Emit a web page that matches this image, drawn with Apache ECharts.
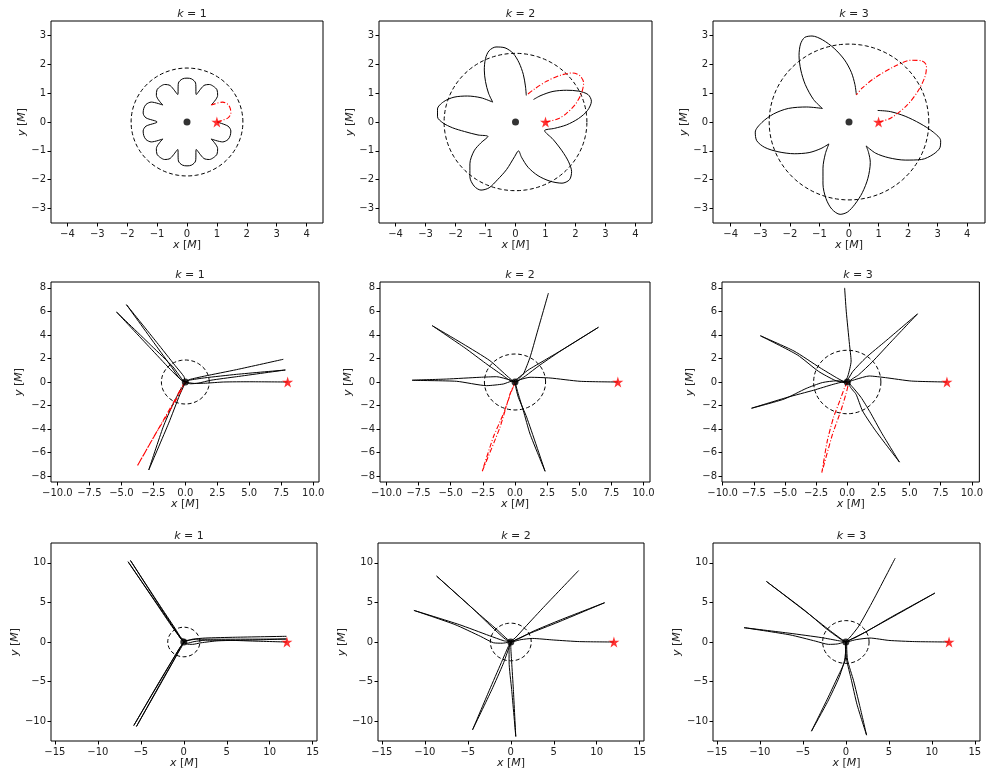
<!DOCTYPE html>
<html><head><meta charset="utf-8">
<script src="https://cdn.jsdelivr.net/npm/echarts@6/dist/echarts.min.js"></script>
<style>html,body{margin:0;padding:0;background:#fff}#c{width:986px;height:774px}</style>
</head><body><div id="c"></div>
<script>
// ---------------- DATA ----------------
const kValues = [1, 2, 3, 1, 2, 3, 1, 2, 3];
const starX = [1, 8, 12];            // star marker x per row (y = 0)
const circleRadius = [1.87, 2.38, 2.7]; // dashed circle radius per k
const xTicks = [
  [-4, -3, -2, -1, 0, 1, 2, 3, 4],
  [-10, -7.5, -5, -2.5, 0, 2.5, 5, 7.5, 10],
  [-15, -10, -5, 0, 5, 10, 15]
];
const yTicks = [
  [-3, -2, -1, 0, 1, 2, 3],
  [-8, -6, -4, -2, 0, 2, 4, 6, 8],
  [-10, -5, 0, 5, 10]
];
const xLimits = [[-4.55, 4.55], [-4.55, 4.55], [-4.6, 4.6],
                 [-10.5, 10.45], [-10.5, 10.5], [-10.05, 10.6],
                 [-15.45, 15.5], [-15.45, 15.5], [-15.45, 15.6]];
const yLimits = [[-3.5, 3.5], [-3.5, 3.5], [-3.5, 3.5],
                 [-8.5, 8.5], [-8.5, 8.5], [-8.5, 8.5],
                 [-12.5, 12.5], [-12.5, 12.5], [-12.5, 12.5]];

// row 1 (bound orbits)
const r1k1Black = [[0.809,0.588],[1.025,0.923],[1.004,1.115],[0.893,1.23],[0.75,1.299],[0.561,1.261],[0.309,0.951],[0.287,1.35],[0.157,1.492],[0,1.52],[-0.157,1.492],[-0.287,1.35],[-0.309,0.951],[-0.561,1.261],[-0.75,1.299],[-0.893,1.23],[-1.004,1.115],[-1.025,0.923],[-0.809,0.588],[-1.195,0.69],[-1.37,0.61],[-1.446,0.47],[-1.467,0.312],[-1.372,0.144],[-1.0,0],[-1.372,-0.144],[-1.467,-0.312],[-1.446,-0.47],[-1.37,-0.61],[-1.195,-0.69],[-0.809,-0.588],[-1.025,-0.923],[-1.004,-1.115],[-0.893,-1.23],[-0.75,-1.299],[-0.561,-1.261],[-0.309,-0.951],[-0.287,-1.35],[-0.157,-1.492],[0,-1.52],[0.157,-1.492],[0.287,-1.35],[0.309,-0.951],[0.561,-1.261],[0.75,-1.299],[0.893,-1.23],[1.004,-1.115],[1.025,-0.923],[0.809,-0.588],[1.195,-0.69],[1.37,-0.61],[1.446,-0.47],[1.467,-0.312],[1.372,-0.144],[1.0,0]];
const r1k1Red = [[1,0],[1.372,0.144],[1.467,0.312],[1.446,0.47],[1.37,0.61],[1.195,0.69],[0.809,0.588]];

const r1k2Black = [[0.36,0.92],[0.33,1.25],[0.26,1.65],[0.12,2.05],[-0.08,2.38],[-0.35,2.57],[-0.65,2.6],[-0.88,2.47],[-1.0,2.2],[-1.04,1.8],[-1.0,1.4],[-0.9,1.0],[-0.76,0.69],
  [-1.15,0.84],[-1.6,0.9],[-2.05,0.86],[-2.4,0.7],[-2.6,0.45],[-2.6,0.18],[-2.42,-0.03],[-2.1,-0.2],[-1.7,-0.33],[-1.25,-0.45],[-0.92,-0.5],
  [-1.15,-0.72],[-1.38,-1.0],[-1.52,-1.45],[-1.52,-1.9],[-1.38,-2.22],[-1.15,-2.36],[-0.88,-2.28],[-0.6,-2.0],[-0.3,-1.65],[-0.03,-1.2],[0.1,-1.0],
  [0.2,-1.22],[0.42,-1.57],[0.75,-1.86],[1.15,-2.05],[1.55,-2.12],[1.8,-2.0],[1.87,-1.72],[1.77,-1.38],[1.55,-1.0],[1.25,-0.6],[0.97,-0.3],
  [1.3,-0.22],[1.7,-0.1],[2.1,0.12],[2.4,0.4],[2.53,0.72],[2.42,0.95],[2.1,1.07],[1.7,1.1],[1.25,1.06],[0.85,0.92],[0.6,0.78]];
const r1k2Red = [[1,0],[1.42,0.11],[1.7,0.3],[2.0,0.62],[2.2,1.0],[2.27,1.35],[2.15,1.6],[1.9,1.7],[1.5,1.62],[1.05,1.42],[0.64,1.15],[0.36,0.92]];

const r1k3Black = [[0.25,0.94],[0.2,1.3],[0.08,1.72],[-0.15,2.15],[-0.5,2.55],[-0.9,2.85],[-1.25,2.98],[-1.5,2.93],[-1.64,2.7],[-1.69,2.3],[-1.63,1.8],[-1.48,1.3],[-1.2,0.78],[-0.9,0.47],
  [-1.43,0.52],[-2.05,0.47],[-2.55,0.28],[-2.95,-0.02],[-3.17,-0.35],[-3.12,-0.65],[-2.85,-0.88],[-2.4,-1.03],[-1.85,-1.1],[-1.35,-1.06],[-0.95,-0.92],[-0.68,-0.76],
  [-0.8,-1.1],[-0.88,-1.6],[-0.88,-2.15],[-0.78,-2.65],[-0.58,-3.02],[-0.3,-3.2],[-0.05,-3.12],[0.2,-2.85],[0.45,-2.45],[0.64,-1.95],[0.72,-1.4],[0.66,-1.05],[0.58,-0.83],
  [0.9,-1.08],[1.35,-1.24],[1.9,-1.32],[2.45,-1.3],[2.85,-1.12],[3.08,-0.88],[3.1,-0.65],[2.85,-0.35],[2.4,-0.05],[1.9,0.2],[1.4,0.36],[0.97,0.4]];
const r1k3Red = [[1,0],[1.42,0.14],[1.98,0.6],[2.35,1.1],[2.58,1.6],[2.62,1.95],[2.45,2.12],[2.1,2.14],[1.53,1.92],[0.86,1.52],[0.45,1.18],[0.25,0.94]];

// row 2
const r2k1Black = [[8,0],[5,0.02],[3,0],[1.6,-0.1],[0.7,-0.12],[0.2,-0.05],[0,0],
  [-0.1,0.45],[-0.8,1.4],[-2.22,3.35],[-4.6,6.57],[-2.38,3.23],[-1.04,1.22],[-0.45,0.3],[0,0],
  [0.3,0.15],[1.5,0.35],[4,0.65],[7.82,1.02],[4,0.45],[2,0.15],[1.0,-0.1],[0.4,-0.15],[0.05,-0.05],
  [-0.1,-0.3],[-0.44,-1.1],[-1.3,-3.5],[-2.86,-7.48],[-1.74,-3.85],[-0.96,-1.87],[-0.35,-0.6],[0,-0.05],
  [-0.3,0.3],[-0.97,1.29],[-2.62,3.05],[-5.38,5.95],[-2.76,2.91],[-1.19,1.09],[-0.4,0.25],[0,0],
  [0.3,0.2],[1.5,0.5],[4,1.05],[7.66,1.93]];
const r2k1Red = [[0,0],[-0.23,-0.31],[-0.7,-1.3],[-1.74,-3.29],[-3.74,-7.11],[-2.26,-4.28],[-1.22,-2.44],[-0.45,-1.0],[-0.12,-0.3],[0,0]];

const r2k2Black = [[8,0],[5.06,0.06],[2.73,0.34],[1.17,0.4],[0.4,0.2],[0,0],
  [-0.5,0.4],[-1.95,1.81],[-4.03,3.23],[-6.44,4.79],[-3.9,2.9],[-2.3,1.6],[-1.0,0.6],[-0.2,0.05],
  [0.2,0.3],[1.0,1.0],[2.3,1.85],[4.0,2.95],[6.49,4.65],[3.77,2.8],[1.95,1.45],[0.8,0.5],[0.2,0.05],
  [0.05,-0.3],[0.26,-1.3],[0.91,-3.0],[2.34,-7.59],[1.17,-4.42],[0.65,-2.44],[0.25,-1.0],[0,-0.1],
  [-0.26,0.06],[-0.91,-0.17],[-2.21,-0.31],[-4.55,0.06],[-8,0.15],[-5.32,0.25],[-2.73,0.4],[-1.43,0.45],[-0.39,0.17],[0,0],
  [0.3,0.3],[0.65,0.68],[1.17,2.1],[1.69,4.08],[2.6,7.56]];
const r2k2Red = [[0,0],[-0.1,-0.3],[-0.39,-1.02],[-1.17,-3.85],[-2.55,-7.59],[-1.69,-4.7],[-0.91,-2.72],[-0.26,-0.74],[0,-0.1]];

const r2k3Black = [[8,0],[5.16,0.08],[3.07,0.37],[1.76,0.51],[0.71,0.23],[0.1,0.02],[0,0],
  [-0.3,0.05],[-0.87,0.37],[-2.18,1.21],[-4.27,2.63],[-6.97,3.93],[-4.0,2.3],[-2.3,0.9],[-1.0,0.15],[-0.2,-0.05],
  [0.1,0.3],[0.45,0.9],[1.49,2.06],[3.07,3.47],[5.64,5.79],[3.5,3.4],[2.0,1.7],[0.9,0.6],[0.2,0.05],
  [0.2,-0.3],[0.71,-1.05],[1.23,-2.46],[2.28,-4.15],[4.19,-6.81],[2.8,-4.4],[1.8,-2.5],[1.1,-1.3],[0.4,-0.4],[0,0],
  [-0.3,0],[-1.13,-0.2],[-2.7,-0.7],[-4.8,-1.3],[-7.68,-2.23],[-5.06,-1.45],[-3.3,-0.55],[-2.0,-0.05],[-0.87,0.1],[-0.2,0.05],
  [0.05,0.51],[0.31,1.78],[0.18,3.19],[-0.08,6.02],[-0.21,8.0]];
const r2k3Red = [[0,0],[-0.21,-0.48],[-0.6,-1.6],[-1.1,-3.0],[-1.6,-5.0],[-2.04,-7.71],[-1.2,-4.5],[-0.5,-2.4],[-0.1,-1.0],[0.05,-0.3],[0,0]];

// row 3
const r3k1Black = [[12,0],[8,0.12],[5,0.22],[2.5,0.22],[1.2,0.05],[0.4,-0.15],[0,-0.1],
  [-0.35,-0.55],[-1.1,-1.9],[-2.8,-5.0],[-5.82,-10.55],[-3.0,-5.3],[-1.4,-2.4],[-0.5,-0.8],[0,-0.1],[0.2,0.2],
  [-0.3,0.5],[-1.0,1.7],[-2.9,4.8],[-6.21,10.3],[-3.2,5.2],[-1.5,2.35],[-0.6,0.9],[-0.05,0.15],
  [1.5,0.35],[4,0.35],[8,0.36],[11.95,0.38],[8,0.25],[4,0.15],[2,-0.1],[1.0,-0.3],[0.3,-0.25],[0,0],
  [-0.25,-0.6],[-0.9,-1.8],[-2.6,-5.0],[-5.51,-10.67],[-2.7,-5.3],[-1.2,-2.4],[-0.4,-0.7],[0.05,0],
  [-0.4,0.5],[-1.2,1.8],[-3.1,4.8],[-6.48,10.13],[-3.4,5.2],[-1.6,2.3],[-0.6,0.8],[0,0.05],
  [1,0.35],[2.5,0.5],[6,0.6],[11.95,0.72]];

const r3k2Black = [[12,0],[8,0.05],[5,0.25],[2.5,0.45],[1.2,0.3],[0.3,0.05],[0,0],
  [-0.3,-0.6],[-1.1,-2.6],[-2.5,-6.1],[-4.45,-11.09],[-2.2,-6.0],[-0.9,-2.8],[-0.2,-0.7],[0.1,0],
  [-0.4,0.35],[-1.6,1.55],[-4.2,4.0],[-8.63,8.32],[-4.5,4.3],[-2.2,1.9],[-0.8,0.5],[0,0],
  [0.6,0.3],[2.0,1.0],[5.5,2.5],[10.92,4.96],[5.8,2.8],[2.6,1.35],[1.0,0.45],[0.1,0],
  [0.0,-0.5],[0.1,-2.5],[0.3,-6.0],[0.58,-11.93],[0.1,-6.0],[-0.2,-2.5],[-0.2,-0.7],[0,0],
  [-0.8,0.15],[-2.5,0.8],[-6,2.2],[-11.27,3.99],[-6.5,2.2],[-3.5,0.7],[-2.0,-0.1],[-1.0,-0.15],[-0.2,0],
  [0.5,0.5],[1.6,1.8],[4,4.6],[7.9,9.03]];

const r3k3Black = [[12,0],[8,0.05],[5,0.2],[2.8,0.5],[1.2,0.3],[0.3,0.05],[0,0],
  [0,-0.6],[-0.05,-2.2],[-0.9,-4.3],[-2.2,-7.3],[-4.0,-11.26],[-2.1,-7.5],[-0.8,-4.5],[-0.15,-2.3],[0,-0.6],[0,0],
  [-0.5,0.35],[-1.8,1.4],[-4.5,3.7],[-9.24,7.65],[-4.8,4.0],[-2.3,1.7],[-0.8,0.5],[0,0],
  [0.6,0.35],[2.2,1.2],[5.2,3.1],[10.36,6.18],[5.5,3.2],[2.5,1.4],[1.0,0.5],[0.1,0],
  [0.1,-0.6],[0.2,-2.3],[0.9,-4.9],[1.6,-8.0],[2.41,-11.76],[1.3,-7.9],[0.6,-4.6],[0.1,-2.3],[-0.05,-0.6],[0,0],
  [-0.8,0.15],[-2.8,0.55],[-6.5,1.1],[-11.84,1.81],[-6.5,0.9],[-3.5,0.1],[-2.0,-0.3],[-1.0,-0.25],[-0.2,0],
  [0.4,0.5],[1.5,2.0],[3.2,5.3],[5.74,10.59]];

const blackOrbits = [r1k1Black, r1k2Black, r1k3Black, r2k1Black, r2k2Black, r2k3Black, r3k1Black, r3k2Black, r3k3Black];
const redOrbits = [r1k1Red, r1k2Red, r1k3Red, r2k1Red, r2k2Red, r2k3Red, null, null, null];

// ---------------- LAYOUT / STYLE ----------------
const layout = [
  {left: 51, top: 21, width: 272, height: 202},
  {left: 379, top: 21, width: 273, height: 202},
  {left: 713, top: 21, width: 272, height: 202},
  {left: 51, top: 282, width: 268, height: 200},
  {left: 380, top: 282, width: 270, height: 200},
  {left: 722, top: 282, width: 262, height: 200},
  {left: 51, top: 543, width: 266, height: 198},
  {left: 378, top: 543, width: 266, height: 198},
  {left: 713, top: 543, width: 267, height: 198}
];
const yNameGap = [21, 26, 29];
const FONT = 'DejaVu Sans';
const TXT = '#222';
const starPath = 'path://M50,0 L61.2,34.5 L97.6,34.5 L68.2,55.9 L79.4,90.5 L50,69.1 L20.6,90.5 L31.8,55.9 L2.4,34.5 L38.8,34.5 Z';

function fmt(v, row, isX) {
  let s = (isX && row === 1) ? v.toFixed(1) : String(v);
  return s.replace('-', '\u2212');
}
function circlePoints(r) {
  const pts = [];
  for (let j = 0; j <= 120; j++) {
    const a = 2 * Math.PI * j / 120;
    pts.push([r * Math.cos(a), r * Math.sin(a)]);
  }
  return pts;
}

const grids = [], xAxes = [], yAxes = [], series = [], titles = [];
for (let i = 0; i < 9; i++) {
  const row = Math.floor(i / 3);
  const L = layout[i];
  grids.push({left: L.left, top: L.top, width: L.width, height: L.height,
    show: true, borderColor: '#000', borderWidth: 1, backgroundColor: '#fff', containLabel: false});
  const rich = {i: {fontStyle: 'italic', fontFamily: FONT, fontSize: 11, color: TXT}};
  xAxes.push({type: 'value', gridIndex: i, min: xLimits[i][0], max: xLimits[i][1],
    axisLine: {show: false, onZero: false}, splitLine: {show: false},
    axisTick: {show: true, length: 3.5, customValues: xTicks[row], lineStyle: {color: '#000', width: 1}},
    axisLabel: {customValues: xTicks[row], formatter: v => fmt(v, row, true), color: TXT, fontSize: 10, fontFamily: FONT, margin: 6},
    name: '{i|x} [{i|M}]', nameLocation: 'middle', nameGap: 17,
    nameTextStyle: {fontSize: 11, fontFamily: FONT, color: TXT, rich: rich}});
  yAxes.push({type: 'value', gridIndex: i, min: yLimits[i][0], max: yLimits[i][1],
    axisLine: {show: false, onZero: false}, splitLine: {show: false},
    axisTick: {show: true, length: 3.5, customValues: yTicks[row], lineStyle: {color: '#000', width: 1}},
    axisLabel: {customValues: yTicks[row], formatter: v => fmt(v, row, false), color: TXT, fontSize: 10, fontFamily: FONT, margin: 5},
    name: '{i|y} [{i|M}]', nameLocation: 'middle', nameGap: yNameGap[row],
    nameTextStyle: {fontSize: 11, fontFamily: FONT, color: TXT, rich: rich}});
  titles.push({text: '{i|k} = ' + kValues[i], left: L.left + L.width / 2, top: L.top - 17, textAlign: 'center',
    textStyle: {fontSize: 11, fontWeight: 'normal', fontFamily: FONT, color: TXT,
      rich: {i: {fontStyle: 'italic', fontSize: 11, fontFamily: FONT, color: TXT}}}});

  const k = kValues[i];
  series.push({type: 'line', xAxisIndex: i, yAxisIndex: i, data: circlePoints(circleRadius[k - 1]),
    symbol: 'none', smooth: false, silent: true,
    lineStyle: {color: '#000', width: 1, type: [4, 2.5]}, z: 2});
  series.push({type: 'line', xAxisIndex: i, yAxisIndex: i, data: blackOrbits[i],
    symbol: 'none', smooth: row === 0 ? 0.3 : 0.2, silent: true,
    lineStyle: {color: '#000', width: 1}, z: 3});
  if (redOrbits[i]) {
    series.push({type: 'line', xAxisIndex: i, yAxisIndex: i, data: redOrbits[i],
      symbol: 'none', smooth: row === 0 ? 0.3 : 0.2, silent: true,
      lineStyle: {color: '#ff0000', width: 1.1, type: [5, 2, 1, 2]}, z: 4});
  }
  series.push({type: 'scatter', xAxisIndex: i, yAxisIndex: i, data: [[0, 0]],
    symbol: 'circle', symbolSize: 7, itemStyle: {color: '#000'}, silent: true, z: 5});
  series.push({type: 'scatter', xAxisIndex: i, yAxisIndex: i, data: [[starX[row], 0]],
    symbol: starPath, symbolSize: 11, itemStyle: {color: '#ff0000'}, silent: true, z: 6});
}

const chart = echarts.init(document.getElementById('c'), null, {renderer: 'canvas'});
chart.setOption({
  animation: false,
  backgroundColor: '#fff',
  title: titles, grid: grids, xAxis: xAxes, yAxis: yAxes, series: series
});
</script>
</body></html>
